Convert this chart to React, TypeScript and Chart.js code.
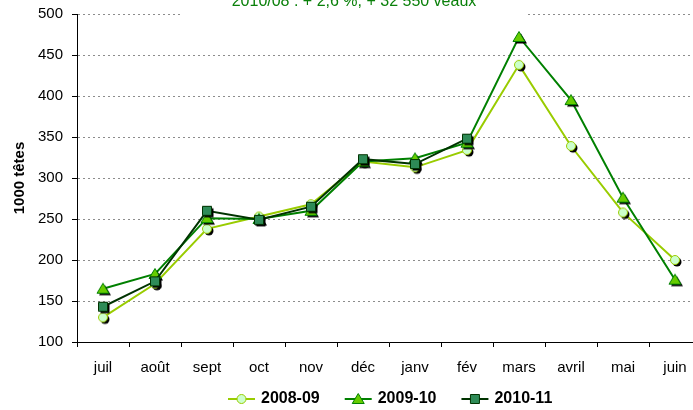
import React, { useEffect, useRef } from "react";
import { Chart, registerables } from "chart.js";

Chart.register(...registerables);

const months = ["juil", "août", "sept", "oct", "nov", "déc", "janv", "fév", "mars", "avril", "mai", "juin"];
const labels = ["2008-09", "2009-10", "2010-11"];
const s0809 = [130, 171, 238, 253, 268, 320, 313, 334, 438, 339, 258, 200];
const s0910 = [165, 183, 251, 250, 260, 320, 324, 343, 472, 395, 276, 176];
const s1011 = [143, 174, 260, 249, 265, 323, 317, 348];
const yTicks = [100, 150, 200, 250, 300, 350, 400, 450, 500];
const titleText = "2010/08 : + 2,6 %, + 32 550 veaux";
const yTitle = "1000 têtes";

const FONT = "'Liberation Sans', Arial, sans-serif";

type Shape = "circle" | "triangle" | "square";
const styles: { shape: Shape; line: string; fill: string; stroke: string }[] = [
  { shape: "circle", line: "#99cc00", fill: "#ccffcc", stroke: "#99cc00" },
  { shape: "triangle", line: "#008000", fill: "#66cc00", stroke: "#008000" },
  { shape: "square", line: "#003300", fill: "#2e8b57", stroke: "#003300" },
];

function drawShape(ctx: CanvasRenderingContext2D, shape: Shape, x: number, y: number, fill: string, stroke: string | null) {
  ctx.beginPath();
  if (shape === "circle") {
    ctx.arc(x, y, 4.5, 0, Math.PI * 2);
  } else if (shape === "triangle") {
    ctx.moveTo(x, y - 5.5);
    ctx.lineTo(x + 6, y + 4.5);
    ctx.lineTo(x - 6, y + 4.5);
    ctx.closePath();
  } else {
    ctx.rect(x - 4.5, y - 4.5, 9, 9);
  }
  ctx.fillStyle = fill;
  ctx.fill();
  if (stroke) {
    ctx.lineWidth = 1;
    ctx.strokeStyle = stroke;
    ctx.stroke();
  }
}

function makeMarker(i: number): HTMLCanvasElement {
  const c = document.createElement("canvas");
  c.width = 20;
  c.height = 20;
  const ctx = c.getContext("2d")!;
  const st = styles[i];
  drawShape(ctx, st.shape, 12, 12, "#000", null);
  drawShape(ctx, st.shape, 10, 10, st.fill, st.stroke);
  return c;
}

const noPad = (s: any) => {
  s.paddingTop = 0;
  s.paddingBottom = 0;
  s.paddingLeft = 0;
  s.paddingRight = 0;
};

const extrasPlugin = {
  id: "extras",
  afterDraw(chart: any) {
    const ctx: CanvasRenderingContext2D = chart.ctx;
    ctx.save();
    ctx.fillStyle = "#ffffff";
    ctx.fillRect(183, 0, 343, 16);
    ctx.fillStyle = "#0a800a";
    ctx.font = `16px ${FONT}`;
    ctx.textAlign = "center";
    ctx.textBaseline = "alphabetic";
    ctx.fillText(titleText, 354, 6);
    ctx.save();
    ctx.translate(20, 178);
    ctx.rotate(-Math.PI / 2);
    ctx.fillStyle = "#000";
    ctx.font = `bold 15px ${FONT}`;
    ctx.textAlign = "center";
    ctx.textBaseline = "middle";
    ctx.fillText(yTitle, 0, 0);
    ctx.restore();
    let x = 228;
    const y = 399;
    ctx.font = `bold 16px ${FONT}`;
    ctx.textAlign = "left";
    ctx.textBaseline = "middle";
    labels.forEach((lab, i) => {
      const st = styles[i];
      ctx.strokeStyle = st.line;
      ctx.lineWidth = 2;
      ctx.beginPath();
      ctx.moveTo(x, y);
      ctx.lineTo(x + 27, y);
      ctx.stroke();
      drawShape(ctx, st.shape, x + 13.5, y, st.fill, st.stroke);
      ctx.fillStyle = "#000";
      ctx.fillText(lab, x + 33, y);
      const w = ctx.measureText(lab).width;
      x = x + 33 + w + 25;
    });
    ctx.restore();
  },
};

export default function App() {
  const ref = useRef<HTMLCanvasElement | null>(null);
  useEffect(() => {
    if (!ref.current) return;
    const series = [s0809, s0910, s1011];
    const chart = new Chart(ref.current, {
      type: "line",
      data: {
        labels: months,
        datasets: series.map((d, i) => ({
          label: labels[i],
          data: d,
          borderColor: styles[i].line,
          backgroundColor: styles[i].fill,
          borderWidth: 2,
          tension: 0,
          fill: false,
          pointStyle: makeMarker(i),
          pointRadius: 5,
          order: 2 - i,
        })),
      },
      options: {
        animation: false,
        responsive: false,
        devicePixelRatio: 1,
        layout: { padding: { left: 0, top: 14, right: 0, bottom: 0 } },
        plugins: { legend: { display: false }, tooltip: { enabled: false }, title: { display: false } },
        scales: {
          x: {
            type: "category",
            offset: true,
            grid: { offset: true, drawOnChartArea: false, drawTicks: true, tickLength: 5, tickColor: "#000", tickWidth: 1 },
            border: { color: "#000", width: 1 },
            ticks: { font: { family: FONT, size: 15 }, color: "#000", padding: 12, maxRotation: 0, autoSkip: false },
            afterFit: (s: any) => { s.height = 68; noPad(s); },
          },
          y: {
            min: 100,
            max: 500,
            afterBuildTicks: (s: any) => { s.ticks = yTicks.map((v) => ({ value: v })); },
            grid: { color: "#8c8c8c", lineWidth: 1, tickColor: "#000", tickLength: 5, tickBorderDash: [] },
            border: { color: "#000", width: 1, dash: [2, 3] },
            ticks: { font: { family: FONT, size: 15 }, color: "#000", padding: 9 },
            afterFit: (s: any) => { s.width = 77; noPad(s); },
          },
        },
      },
      plugins: [extrasPlugin],
    } as any);
    return () => chart.destroy();
  }, []);
  return (
    <div style={{ position: "absolute", left: 0, top: 0, width: 693, height: 410, overflow: "hidden", background: "#fff" }}>
      <canvas ref={ref} width={708} height={410} style={{ display: "block" }} />
    </div>
  );
}
